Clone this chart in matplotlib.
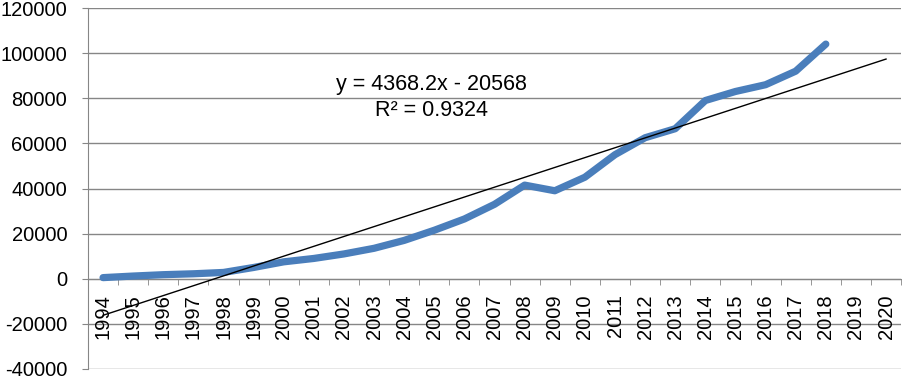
import matplotlib
matplotlib.use("Agg")
import matplotlib.pyplot as plt
from matplotlib.ticker import FixedLocator, NullFormatter

years = [str(y) for y in range(1994, 2021)]
values = [500, 1200, 1800, 2200, 2800, 5000, 7500, 9000, 11000, 13500,
          17000, 21500, 26500, 33000, 41500, 39000, 45000, 55000, 62500,
          66500, 79000, 83000, 86000, 92000, 104000]
slope = 4368.2
intercept = -20568
r2 = 0.9324
yticks = [-40000, -20000, 0, 20000, 40000, 60000, 80000, 100000, 120000]

plt.rcParams['font.family'] = ['Liberation Sans', 'DejaVu Sans']

fig = plt.figure(figsize=(9.02, 3.77), dpi=100)
ax = fig.add_axes([88/902, 1 - 369/377, 1 - 88/902 - 0.001, (369 - 8)/377])

xs = list(range(1, len(years) + 1))
ax.set_xlim(0.5, len(years) + 0.5)
ax.set_ylim(-40000, 120000)

grid_c = '#868686'
for t in yticks:
    ax.axhline(t, color=grid_c, lw=1.0, zorder=1)

ax.plot(xs[:len(values)], values, color='#4a7ebb', lw=5.2,
        solid_capstyle='round', solid_joinstyle='round', zorder=3)
tx = [xs[0], xs[-1]]
ax.plot(tx, [slope * x + intercept for x in tx], color='black', lw=1.0, zorder=4)

for s in ['top', 'right']:
    ax.spines[s].set_visible(False)
ax.spines['left'].set_color(grid_c)
ax.spines['bottom'].set_position(('data', 0))
ax.spines['bottom'].set_color(grid_c)

ax.set_yticks(yticks)
ax.set_yticklabels([str(t) for t in yticks], fontsize=14.5)
ax.tick_params(axis='y', direction='out', length=4, color=grid_c, pad=11)

ax.set_xticks(xs)
ax.set_xticklabels(years, rotation=90, fontsize=14.5, va='top')
ax.tick_params(axis='x', which='major', length=0, pad=11)
ax.xaxis.set_minor_locator(FixedLocator([x + 0.5 for x in [0] + xs]))
ax.xaxis.set_minor_formatter(NullFormatter())
ax.tick_params(axis='x', which='minor', direction='out', length=4, color=grid_c)

ax.text(0.4225, 0.752, f"y = {slope}x - {abs(intercept)}\nR² = {r2}",
        transform=ax.transAxes, ha='center', va='center', fontsize=15.5,
        linespacing=1.3, multialignment='center')

fig.savefig('out.png', dpi=100)
